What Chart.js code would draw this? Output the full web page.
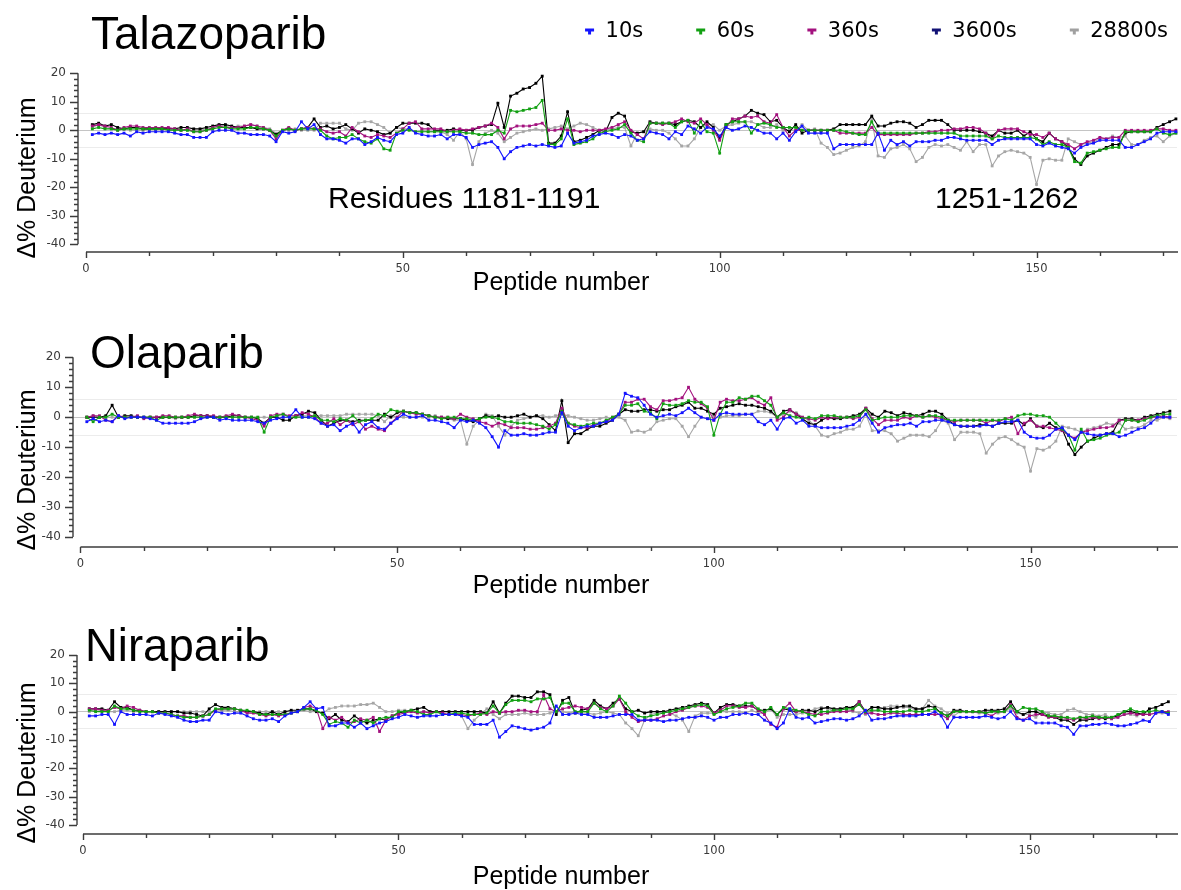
<!DOCTYPE html>
<html>
<head>
<meta charset="utf-8">
<script src="https://cdn.jsdelivr.net/npm/chart.js@4.4.1/dist/chart.umd.min.js"></script>
<style>
  body { margin: 0; background: #fff; }
  #page { position: relative; width: 1181px; height: 890px; overflow: hidden; font-family: 'Liberation Sans', Arial, sans-serif; }
  .panel { position: absolute; left: 0; width: 1181px; }
  .txt { position: absolute; white-space: nowrap; line-height: 1; color: #000; z-index: 2; }
  .ytitle { position: absolute; white-space: nowrap; line-height: 1; font-size: 25px; color: #000;
            transform: translate(-50%, -50%) rotate(-90deg); z-index: 2; }
  .xtitle { position: absolute; white-space: nowrap; line-height: 1; font-size: 25px; color: #000;
            transform: translateX(-50%); z-index: 2; }
</style>
</head>
<body>
<div id="page">
  <div class="panel" style="top:0;height:282px"><canvas id="talaChart"></canvas></div>
  <div class="panel" style="top:300px;height:277px"><canvas id="olaChart"></canvas></div>
  <div class="panel" style="top:600px;height:264px"><canvas id="niraChart"></canvas></div>

  <div class="txt" style="left:91px;top:10px;font-size:46px">Talazoparib</div>
  <div class="txt" style="left:90px;top:329px;font-size:46px">Olaparib</div>
  <div class="txt" style="left:85px;top:623px;font-size:45.5px">Niraparib</div>

  <div class="txt" style="left:328px;top:183px;font-size:30px">Residues 1181-1191</div>
  <div class="txt" style="left:935px;top:183px;font-size:30px">1251-1262</div>

  <div class="ytitle" style="left:26px;top:178px">Δ% Deuterium</div>
  <div class="ytitle" style="left:26px;top:470px">Δ% Deuterium</div>
  <div class="ytitle" style="left:26px;top:763px">Δ% Deuterium</div>

  <div class="xtitle" style="left:561px;top:269px">Peptide number</div>
  <div class="xtitle" style="left:561px;top:572px">Peptide number</div>
  <div class="xtitle" style="left:561px;top:863px">Peptide number</div>
</div>

<script>
// peptide numbers along the x axis
const peptides = Array.from({ length: 172 }, (_, i) => i + 1);

const seriesNames = ['10s', '60s', '360s', '3600s', '28800s'];
const lineColors = ['#1414ff', '#12a012', '#a3117e', '#000000', '#a6a6a6'];
const legendColors = ['#1414ff', '#12a012', '#a3117e', '#121275', '#a0a0a0'];

// tick positions (labels only every 50 on x and every 10 on y)
const xTickValues = [0, 10, 20, 30, 40, 50, 60, 70, 80, 90, 100, 110, 120, 130, 140, 150, 160, 170];
const yTickValues = [-40, -38, -36, -34, -32, -30, -28, -26, -24, -22, -20, -18, -16, -14, -12, -10,
                     -8, -6, -4, -2, 0, 2, 4, 6, 8, 10, 12, 14, 16, 18, 20];

// Talazoparib
const tala10 = [
  -1.5,-1,-1.5,-1,-1.5,-1,-2,-0.5,-1,-0.5,
  -0.5,-0.5,-0.5,-1,-1.5,-1.5,-2.5,-2.5,-2.5,-0.5,
  0,0,0,-1,-1,-1.5,-1.5,-1.5,-2,-4,
  -0.5,-1,-0.5,3,0.5,2,-1.5,-3,-3,-3.5,
  -4.5,-3,-3,-5,-4,-2.5,-3.5,-4,-1.5,-1,
  1,-1,-1.5,-2,-2,-1.5,-3,-1.5,-1.5,-2.5,
  -6,-5,-4.5,-4,-6,-10,-7.5,-6,-5.5,-5,
  -5.5,-5,-5.5,-6,-5.5,-1,-4.5,-4,-3.5,-2,
  -1.5,-1,-1.5,-2.5,-1.5,-2,-3.5,-3,-0.5,-1,
  -1.5,-3,-0.5,-1.5,1.5,0.5,-1,1,0.5,-2,
  1,0,0.5,1.5,1,0,-1,-1,-3,-1,
  -3.5,-0.5,1.5,-1,-1,-1,-1,-6.5,-5,-5,
  -5,-5,-5,-5,-1,-7,-3.5,-5,-4,-5.5,
  -4,-4,-4,-3.5,-3.5,-2.5,-2.5,-3,-3.5,-3.5,
  -3.5,-3.5,-5,-3.5,-3,-3,-3,-3,-3,-5,
  -5.5,-4.5,-5.5,-6,-6.5,-8,-6,-5,-4.5,-3.5,
  -3.5,-3.5,-3.5,-6,-6,-5,-4,-3,-1,-0.5,
  -0.5,-0.5];
const tala60 = [
  0.5,1,0.5,0.5,0,0.5,0.5,0.5,0.5,0.5,
  0.5,0.5,0,0,0,0,-0.5,-0.5,0,0.5,
  1,1,0.5,0.5,0.5,1,1,0.5,0,-2,
  0,0.5,0,0.5,0.5,0.5,0,-2,-3,-2.5,
  -2.5,-1.5,-3,-4,-4.5,-3,-6.5,-7,-1,0,
  0,-0.5,-0.5,-0.5,-0.5,-0.5,-0.5,-0.5,-0.5,-1,
  -1,-1.5,-1.5,-1.5,0,-1,7,6.5,7,7.5,
  8,10.5,-5,-5,-3,4,-5,-4.5,-4,-3,
  -1,-0.5,0,0.5,2,-1,-3.5,-4,2.5,2.5,
  2.5,2.5,1,3,3.5,-1,3,-0.5,-1,-8,
  2,3,3,3,-1,2,2.5,2,1,1,
  1,1,0,0,0,0,0,0,0,-0.5,
  -1,-1.5,-1.5,3,-1,-1,-1,-1,-1,-1,
  -1,-1,-1,-1,-1,-1,-1,-2,-2,-2,
  -2,-2,-3,-2,-2.5,-2.5,-2.5,-2.5,-2.5,-3,
  -5,-4,-5,-5,-6,-11,-11.5,-8,-7.5,-7,
  -6.5,-6,-6,-0.5,-0.5,-0.5,-0.5,-0.5,0.5,-1,
  -1.5,-1];
const tala360 = [
  1.5,2,1.5,1,0,1,1.5,1.5,1,1,
  1,1,1,0.5,0,0.5,-0.5,-0.5,0,1,
  1.5,1,1,1,1.5,2,1.5,1,0,-3,
  0,1,0,0.5,1,0.5,0.5,-0.5,-1,-0.5,
  -2,1,-0.5,-2,-2.5,-1.5,-2,-2.5,-1,0.5,
  2.5,3,0.5,0.5,0.5,0.5,-0.5,0,0.5,0,
  0.5,1,1.5,2.5,1,-3,0.5,1.5,1.5,1.5,
  2,2.5,0,0,0.5,0,0,-0.5,0,0,
  0,0.5,1,2,3,0,-1.5,-3,2.5,2.5,
  2,2.5,3,4,3,2.5,4,2,0,-3.5,
  1,4,4,5,4.5,5,3,2.5,5.5,1,
  -2,0,0,0,0,0,0,0,-1,-1,
  -1,-1,-1,1,-1.5,-1.5,-1.5,-1.5,-1.5,-1.5,
  -1,-1,-0.5,-0.5,0,0,0.5,0.5,1,1,
  0.5,-1,-3,0,0.5,0.5,0.5,-0.5,-1.5,-1.5,
  -2.5,-1,-3,-4,-5,-6.5,-5,-4,-3.5,-2.5,
  -3,-2.5,-2.5,0,0,0,0,0,0.5,0.5,
  0,0];
const tala3600 = [
  2,2.5,1.5,2,1,0.5,1,1,0.5,0.5,
  0.5,0.5,0.5,0.5,1,1,0.5,0.5,1,1.5,
  2,2,1.5,1,1,1,0.5,0.5,0,-1.5,
  0,0.5,0,0.5,1,4,1,1.5,0.5,1,
  2,0.5,-1,0.5,0,-0.5,-1.5,-1,1,2.5,
  2.5,2.5,2.5,2,0,0,0,0.5,0,0,
  0,1,1.5,2,9.5,1,12,13,14.5,15,
  16.5,19,-4.5,-4.5,-2,6.5,-4,-3.5,-2.5,-1.5,
  0,-0.5,4.5,6,5,-0.5,-1,-0.5,3,2.5,
  2.5,2.5,2,3,3.5,3,1,3,1,-3,
  2,3,4,5,7,6,5.5,3,3.5,1,
  -0.5,2,-1,0,0,0,0,0.5,2,2,
  2,2,2,5,1.5,1.5,2.5,3,3,2.5,
  1,2,3.5,3.5,3.5,2,0,0,0,0,
  -0.5,-1,-2,0,-1,-1,0,-2,-0.5,-3,
  -4,-1,-3,-4,-6,-10,-12,-9,-8,-7,
  -6,-5,-5,-1,-0.5,-0.5,-0.5,-0.5,1,2,
  3,4];
const tala28800 = [
  1,2,1,0.5,0.5,0.5,0,0,0,0.5,
  0.5,0.5,0,0,0,0,0,0,0.5,1,
  1.5,1.5,1,1.5,1.5,2,1.5,1,0.5,-1,
  0,0,0.5,0,0,0,2.5,2.5,2.5,2.5,
  0.5,0,2.5,3,3,2,1,-1,1,0.5,
  0.5,-0.5,0,-0.5,-0.5,-0.5,-1.5,-3.5,-0.5,-3,
  -12,-4,-1,0,-1,-4,-2.5,-1,-0.5,0,
  0.5,0,0.5,1,1.5,0.5,1.5,2.5,2,1,
  0,0,0.5,1,1,-5.5,-1,-0.5,0.5,0,
  0,-1,-3,-5.5,-5.5,-3,1,2,2,0,
  1.5,2,2.5,3,3,2,1,1,2,0,
  0,0,2,0,0.5,-4.5,-6,-8.5,-8,-7,
  -6,-5.5,-4,4,-9,-9.5,-6.5,-6,-5,-6.5,
  -11,-9.5,-6,-5,-5.5,-5,-6,-7,-4,-7.5,
  -5,-5,-12.5,-9,-7.5,-7,-7.5,-8,-9.5,-19,
  -10.5,-10,-10.5,-10.5,-3,-4,-5,-4.5,-4,-3,
  -3,-2,-2.5,-2,-5,-5,-3.5,-2.5,-2,-4,
  -2,-1];

// Olaparib
const ola10 = [
  -1.5,-0.5,-1.5,-1,-1.5,0.5,-0.5,0,0,0,
  -0.5,-1,-2,-2,-2,-2,-2,-1.5,-0.5,0,
  0,-1,-0.5,-1,-1,-1,-1,-1.5,-2,-1,
  -0.5,0,0,2.5,0,0,-0.5,-2,-3,-2.5,
  -4.5,-3,-2,-5,-2.5,-1.5,-3.5,-4,-2,-0.5,
  1,0,0,0.5,-1,-1,-1.5,-2,-3.5,-1,
  -1.5,-1,-2,-3.5,-6.5,-10,-4.5,-6,-6,-5.5,
  -6,-6,-5.5,-5,-5,1.5,-3,-4.5,-3.5,-3,
  -3,-2,-1.5,-1,1,8,7,6.5,4,1,
  0,0.5,1,0.5,1.5,3,1.5,0,-0.5,-1,
  1,1.5,1,1,1,1,-1.5,-2.5,-1,-4,
  -0.5,0,-2,-1,-3,-3,-3.5,-3.5,-3.5,-3.5,
  -3,-2.5,-1,1,-2,-5,-3.5,-3,-2.5,-2.5,
  -2,-3,-1.5,-1.5,-1,-1,-1.5,-2.5,-3,-3,
  -3,-3,-2.5,-3,-2,-1.5,-1.5,-1,-5,-6.5,
  -7,-7,-6,-4,-3.5,-6,-7.5,-5,-5.5,-6,
  -6,-5.5,-5.5,-6.5,-6,-5,-4,-3.5,-2,0,
  0,0];
const ola60 = [
  0,-1.5,0,0,1,0,0,0,0,0,
  0,-1,0,0,0,0,0,0,0,0,
  0,0,0,0,0,0,0,0,-5,0,
  0.5,1,0,0,0,0,0.5,-1,-1,-1.5,
  -0.5,-1,0.5,-1.5,-1,-0.5,1,0.5,2.5,2,
  2,1.5,1.5,1,0.5,0,-0.5,0,0,-0.5,
  -0.5,-1,-0.5,0,0,-0.5,-1.5,-1.5,-2,-2,
  -2,-2.5,-3,-4,-2.5,2,-2,-2.5,-3,-2.5,
  -2,-2,-1,0,1,4,4,4.5,2,1.5,
  -0.5,4.5,4,4,4.5,5.5,5,5,3.5,-6,
  1,5,5,6.5,6,7,7,5.5,4,0,
  1.5,0.5,0,-0.5,0,-0.5,0.5,0.5,0.5,0,
  0,0,0.5,2.5,-1,-0.5,0,0,0,0.5,
  0.5,0.5,0,0.5,0.5,0,-1,-1,-1,-1,
  -1,-1,-1,-1,-1,-0.5,-1,0.5,1,1,
  0.5,0.5,0,-2,-4,-6,-11,-4,-8,-7.5,
  -7,-6,-5.5,-5,-1,-1,-1.5,-1,0,0.5,
  1,1];
const ola360 = [
  0,0.5,0.5,-1,-1.5,0.5,0,0,0.5,-0.5,
  0,0,0.5,0.5,0,0,0.5,1,0.5,0.5,
  0.5,0,0.5,1,0.5,0,-0.5,-1,-3,0.5,
  1,1,0.5,0.5,1.5,1,0,-2,-2,-0.5,
  -2.5,-1,-2.5,-1.5,-4,-3,-4,-4.5,-2,0,
  2,1.5,1,1,0.5,0,0,0,-0.5,1,
  0,-0.5,-1.5,-2,-3,-2,-2.5,-3.5,-3.5,-3.5,
  -4,-4,-3.5,-3,-2,3,-2,-3,-3.5,-3.5,
  -2.5,-2,-1.5,0,1,5,5,6,6,3.5,
  2.5,5.5,5.5,6,6.5,10,6,4.5,3,-1,
  5,6,5.5,5.5,6,6.5,5,4,6.5,-1,
  0,2.5,1,0,-0.5,-1,0,-0.5,0,0,
  0,-0.5,0,3,-0.5,-2.5,-1,-1,-1,0,
  -0.5,0.5,0,0.5,0,-0.5,-1,-1.5,-1,-1,
  -1,-1,-2,-1,-1.5,-0.5,0,-5.5,-2,-1,
  -3,-3,-3.5,-4,-4.5,-6,-7,-5,-4.5,-4,
  -3.5,-3.5,-3,-1,-1,-1,-1,-0.5,0,0,
  0.5,0];
const ola3600 = [
  0,0,0,0.5,4,0,0.5,0.5,0,0,
  0,0,0,0,0,0,0,0.5,0.5,0.5,
  0,0,0,0.5,0.5,0,0,-0.5,-2,0,
  0,-1,-1,0.5,1,2,1.5,-1,-3,-2,
  -1,-1,-1.5,-1,-1,-1,-1,1,0,1.5,
  2,1.5,1.5,1,0.5,0,0,-0.5,-0.5,-0.5,
  -1,-1.5,-0.5,0.5,0,0.5,0,0,0.5,1,
  0,0.5,-0.5,-2.5,-4.5,5.5,-8.5,-5.5,-5.5,-4,
  -3,-3,-2,-1,1,2.5,2,2,2.5,2.5,
  2,2.5,2.5,3.5,4,5,3,3,2,1,
  3,3.5,4,4.5,4,4,3.5,3,2,0,
  2,2.5,1,-0.5,-2,-2.5,-1,0,-0.5,-0.5,
  0,0.5,1,3,1,0,2,1.5,0.5,1.5,
  1,0.5,1,2,2,1,-1,-2.5,-3,-3,
  -3,-2.5,-2.5,-3,-2,-2,-2,-1,-2.5,-0.5,
  -3,-3.5,-2,-3.5,-4,-9,-12.5,-10,-8,-7,
  -6,-5.5,-5,-1,-0.5,-0.5,-1,0,0.5,1,
  1.5,2];
const ola28800 = [
  0,0.5,0,0,0,0,0,0,0,0,
  0,0,0,0,-0.5,0,0,0,0,0,
  0,0,0,0,0,0,0,0,0,0,
  0,0,0,0,0.5,0.5,0.5,0.5,0.5,0.5,
  0.5,1,1,1,1,1,0.5,-1.5,0.5,0,
  0,0,0,0,0,0.5,-0.5,-0.5,-1,-1,
  -9,-3,-1,1,0.5,-3,-6,-3,-1,-0.5,
  0,0.5,0.5,0,0.5,1,0.5,0,-0.5,-1,
  -1,-0.5,0,-0.5,0,-1,-5,-4.5,-5,-4,
  -1.5,-1,-0.5,-0.5,-3,-6.5,-3,0,-0.5,0,
  0,0.5,0.5,0.5,1,1,2,2,1.5,0,
  1,2,1.5,0,-1,-3,-6,-6.5,-5.5,-5,
  -4,-4,-3,1,-4.5,-4.5,-4.5,-5.5,-8,-7,
  -6,-6,-6,-6.5,-4.5,-1,-2,-7.5,-5,-5,
  -5,-5.5,-12,-9,-7,-6.5,-7.5,-9,-10,-18,
  -10.5,-11,-10,-8,-3,-3.5,-4,-5,-4,-3.5,
  -3,-2,-2.5,-2,-4,-3.5,-3.5,-2.5,-1,-1,
  0,-0.5];

// Niraparib
const nira10 = [
  -1.5,-1.5,-1,-1,-4.5,0,-1,-1,-1,-1,
  -1.5,-0.5,-1,-1.5,-2,-3,-3.5,-3.5,-3,-3,
  0,-0.5,-1,-0.5,-0.5,-1.5,-2.5,-3,-3,-2.5,
  -3.5,-1.5,-0.5,0,1.5,3.5,1,1.5,-5,-5,
  -4,-4,-5.5,-4,-6,-5,-4,-3.5,-2.5,-2,
  -1,-1.5,-2,-1.5,-1.5,-1.5,-1,-1,-1,-1.5,
  -2,-4.5,-4.5,-4.5,-3,-9,-7,-5,-5.5,-6,
  -6.5,-6,-5.5,-4,2,-1,-1,-0.5,-1,-1,
  -2,-2,-2,-1.5,-1,-1,-1,-3,-3,-3,
  -3,-3.5,-3,-3,-2.5,-2,-2,-1.5,-2,-3,
  -2,-2,-1,-1,-0.5,-1,-1,-3,-4,-6,
  -4,1,-2,-2.5,-2,-4,-3.5,-3,-2.5,-2.5,
  -3,-2.5,-1.5,0.5,-3,-2.5,-2.5,-2,-1.5,-1.5,
  -1.5,-1.5,-1,-1,0,-1.5,-5.5,-2,-2,-2,
  -2,-2,-1.5,-2,-2.5,-2,0,-2.5,-3,-2.5,
  -4,-4,-4,-4,-5,-5.5,-8,-5,-5,-4.5,
  -4.5,-4,-4.5,-5,-5,-4.5,-4,-3,-3.5,-0.5,
  0,-1];
const nira60 = [
  0.5,0,0,0,2,1,1,0.5,0,0,
  0,-0.5,-0.5,-1,-1.5,-2,-2,-2,-1.5,-1,
  1,1,1,1,0.5,0.5,0,-1,-1,-1,
  -1,-1,-0.5,0,1,1,0.5,-1,-4.5,-3.5,
  -4,-5.5,-3,-4,-3,-4,-2.5,-2,-2,0,
  0,0.5,0,-1,-1,0,-1,-1,-0.5,-0.5,
  -1,-1,-1,-0.5,2,-0.5,2.5,4,4,4,
  3.5,4.5,4.5,5,0,3,3,0,0,0,
  3,1,0,2,5.5,3,0,-1.5,-2,-1.5,
  -1,-0.5,0,0.5,1,1.5,2,2.5,2,-1,
  0,1,1.5,2,3,3,1,0,1.5,-1,
  1.5,1,0.5,0,-1,-1.5,0,0,0.5,0.5,
  1,1,2.5,0,0.5,0.5,0,0,0,0,
  0.5,0,0,0.5,1,-0.5,-1.5,0,0,0,
  0,0,-0.5,0,0,0,2,0,1.5,1,
  1,0,-1.5,-1.5,-2,-2,-2.5,-2,-2,-1.5,
  -2,-2,-2,-1,0,1,0,0,0,0.5,
  0,-0.5];
const nira360 = [
  1,1,0.5,0.5,1.5,1,2,1.5,0.5,0,
  0,-0.5,-0.5,-1,-1.5,-1.5,-2,-2,-1.5,-1,
  0.5,1,1,1,0.5,-0.5,-0.5,-1,-1.5,-1,
  -1.5,-1,-0.5,0,1.5,2,1,-6,-2,-3,
  -2,-4,-3.5,-2.5,-3,-2,-7,-3,-1.5,-1,
  -0.5,0,-0.5,0,-0.5,0,-0.5,-1,-1,-1,
  -1.5,-1,-0.5,-1,0,-0.5,0,0,0.5,0.5,
  0,0,6,1,0,1,1.5,2,1.5,1,
  3,1.5,1,2,4.5,0,-2,-3.5,-3,-3,
  -2.5,-1.5,-1,0,0.5,1.5,2,2,1.5,-0.5,
  0.5,2,2,1.5,1.5,2,0.5,-1,-4.5,-5.5,
  1,3,0,0,-0.5,-1,-1,-0.5,0,0,
  0,0.5,3.5,-0.5,-0.5,-1,-1,-0.5,-0.5,-1,
  -1,-1,-1,-1,-1,-1,-2.5,0,0,0,
  0,0,-0.5,-1.5,0,0,2.5,-2,-3,-1.5,
  -1,-1,-2,-2,-2,-2.5,-3,-2,-2.5,-2,
  -2.5,-2,-2.5,-2,-1,-0.5,-1,-1,-1,-0.5,
  0,0];
const nira3600 = [
  1,1,1,0.5,3.5,1.5,1.5,0.5,0.5,0,
  0,0,0,0,0,-0.5,-0.5,-1,-1.5,1,
  2.5,1.5,1.5,1,0.5,0,0,-0.5,-1,0,
  -1,0,0.5,0.5,1,1,0,-0.5,-2.5,-1,
  -3,-3.5,-1.5,-3,-4,-3,-2.5,-3,-1.5,-0.5,
  0,0.5,1,1.5,0,0,0,0,0,0,
  0,0,0,-0.5,3.5,-0.5,3,5.5,5.5,5,
  5,7,7,6,-1,4,5,-0.5,0.5,1,
  4,2,1,3,4.5,1,0,0.5,-0.5,0,
  0,0,0.5,1,1.5,2,2.5,3,2.5,-0.5,
  1.5,2.5,2.5,2,2,2,0.5,0.5,1,-1,
  1,0.5,0,0.5,0.5,0,1,1.5,1,1,
  1.5,1.5,3.5,0,1.5,1.5,1,1,1.5,2,
  2,1,1,2,1.5,-0.5,-1.5,0.5,0.5,0,
  0,0,0.5,0.5,0.5,1,3.5,0,-1,0,
  0,-1,-1.5,-2,-3,-3,-4.5,-3,-3,-2.5,
  -2,-2.5,-2,-1.5,0,0,-0.5,-1,1,1.5,
  2.5,3.5];
const nira28800 = [
  0,0.5,0.5,0,0,0.5,0.5,0,0,0,
  0,0,0,0,0,0,0,0,0,0,
  0,0.5,0.5,0,0,0,0,0,0,0,
  0,0,0,0,0.5,0,0,-0.5,1,1.5,
  2,2,2,2.5,2.5,3,1.5,0,0,0.5,
  0.5,0,0,0,0,0,-1,-1,-0.5,-1.5,
  -6,-3,-1,1,-1,-2.5,-1,-1,-1,-0.5,
  -1,-1,-1,-0.5,0,0,-0.5,0,-0.5,-0.5,
  -1,-0.5,0,-0.5,-1,-4,-6,-8.5,-3,-1,
  -0.5,0,-0.5,-1.5,-3,-7,-1.5,-0.5,-0.5,-0.5,
  0,0,0,0,-0.5,0.5,-0.5,-0.5,1,-2,
  -1,-1,-1,-0.5,0,1,1.5,1,0.5,1,
  0.5,0,-0.5,-1,0,0.5,1.5,2,2,1.5,
  1.5,0.5,1,4,2,1,-0.5,-1.5,0,0,
  0,-0.5,-0.5,0,-0.5,0,1,-0.5,-1,-1,
  -2,0,-0.5,-1,-1,0.5,1,0,-1,-1,
  -1.5,-1,-2.5,-2,-1,-1,-1.5,-0.5,-1,-0.5,
  -0.5,-0.5];

const tickFont = { family: "'DejaVu Sans', sans-serif", size: 11.5 };

// small "T" shaped legend marks, drawn at the right end of a 50px box
function makeMark(color) {
  const c = document.createElement('canvas');
  c.width = 50; c.height = 12;
  const g = c.getContext('2d');
  g.fillStyle = color;
  g.fillRect(40, 3, 9, 3);
  g.fillRect(43, 6, 3, 3);
  return c;
}
const legendMarks = legendColors.map(makeMark);

// axis lines + tick marks (the reference has a detached x axis)
const axesPlugin = {
  id: 'axesPlugin',
  beforeDatasetsDraw(chart) {
    const { ctx, chartArea, scales: { x, y } } = chart;
    ctx.save();
    ctx.strokeStyle = '#3c3c3c';
    ctx.lineWidth = 1.4;
    const left = chartArea.left;
    ctx.beginPath();
    ctx.moveTo(left, y.getPixelForValue(20));
    ctx.lineTo(left, y.getPixelForValue(-40));
    y.ticks.forEach(t => {
      const py = Math.round(y.getPixelForValue(t.value)) + 0.5;
      const len = t.value % 10 === 0 ? 8 : 4;
      ctx.moveTo(left - len, py);
      ctx.lineTo(left, py);
    });
    const bottom = chartArea.bottom;
    ctx.moveTo(x.getPixelForValue(0), bottom);
    ctx.lineTo(chart.width - 3, bottom);
    x.ticks.forEach(t => {
      const px = Math.round(x.getPixelForValue(t.value)) + 0.5;
      ctx.moveTo(px, bottom);
      ctx.lineTo(px, bottom + (t.value % 50 === 0 ? 6 : 4));
    });
    ctx.stroke();
    ctx.restore();
  }
};

function makeDataset(i, values) {
  return {
    label: seriesNames[i],
    data: peptides.map((p, k) => ({ x: p, y: values[k] })),
    borderColor: lineColors[i],
    backgroundColor: lineColors[i],
    pointBackgroundColor: lineColors[i],
    pointBorderWidth: 0,
    pointStyle: 'rect',
    pointRadius: 2,
    borderWidth: 1.1,
    tension: 0,
    clip: false
  };
}

function makePanel(id, series, g) {
  // g: pixel geometry of the panel, in canvas coordinates
  const ppu = (g.yM40 - g.y20) / 60;
  const yMax = 20 + (g.y20 - g.areaTop) / ppu;
  const yMin = -40 - (g.axisY - g.yM40) / ppu;
  const ppx = (g.x150 - g.x0) / 150;
  const xMin = -(g.x0 - g.yAxisX) / ppx;
  const xMax = (1181 - g.x0) / ppx;

  return new Chart(document.getElementById(id), {
    type: 'line',
    data: { datasets: series.map((v, i) => makeDataset(i, v)) },
    plugins: [axesPlugin],
    options: {
      responsive: true,
      maintainAspectRatio: false,
      animation: false,
      events: [],
      layout: { padding: { top: g.padTop, left: 0, right: 0, bottom: 0 } },
      scales: {
        x: {
          type: 'linear',
          min: xMin,
          max: xMax,
          border: { display: false },
          grid: { display: false, drawTicks: true, tickLength: 10 },
          afterFit: s => { s.height = 30; },
          afterBuildTicks: s => { s.ticks = xTickValues.map(v => ({ value: v })); },
          ticks: {
            autoSkip: false,
            maxRotation: 0,
            padding: 0,
            color: '#3a3a3a',
            font: tickFont,
            callback: v => (v % 50 === 0) ? String(v) : ''
          }
        },
        y: {
          min: yMin,
          max: yMax,
          border: { display: false },
          afterFit: s => { s.width = g.yAxisX; },
          afterBuildTicks: s => { s.ticks = yTickValues.map(v => ({ value: v })); },
          grid: {
            drawTicks: true,
            tickLength: 12,
            tickColor: 'rgba(0,0,0,0)',
            lineWidth: 1,
            color: c => {
              const v = c.tick ? c.tick.value : null;
              if (v === 0) return '#c4c4c4';
              if (v === 6 || v === -6) return '#ececec';
              return 'rgba(0,0,0,0)';
            }
          },
          ticks: {
            autoSkip: false,
            padding: 0,
            color: '#3a3a3a',
            font: { family: "'DejaVu Sans', sans-serif", size: 12 },
            callback: v => (v % 10 === 0) ? String(v) : ''
          }
        }
      },
      plugins: {
        tooltip: { enabled: false },
        legend: g.legend ? {
          display: true,
          position: 'top',
          align: 'end',
          labels: {
            usePointStyle: true,
            pointStyleWidth: 50,
            padding: 13,
            color: '#000',
            font: { family: "'DejaVu Sans', sans-serif", size: 21 },
            generateLabels: chart => {
              const items = Chart.defaults.plugins.legend.labels.generateLabels(chart);
              items.forEach((it, i) => { it.pointStyle = legendMarks[i]; });
              return items;
            }
          }
        } : { display: false }
      }
    }
  });
}

// legend height = font 21 + padding 13 + 10 = 44, so the plot area starts at 8 + 44
makePanel('talaChart', [tala10, tala60, tala360, tala3600, tala28800], {
  legend: true, padTop: 8, areaTop: 52, y20: 73.3, yM40: 244.3, axisY: 252,
  yAxisX: 78, x0: 86, x150: 1040
});
makePanel('olaChart', [ola10, ola60, ola360, ola3600, ola28800], {
  legend: false, padTop: 20, areaTop: 20, y20: 57.3, yM40: 237, axisY: 247,
  yAxisX: 73, x0: 80.5, x150: 1034
});
makePanel('niraChart', [nira10, nira60, nira360, nira3600, nira28800], {
  legend: false, padTop: 20, areaTop: 20, y20: 55, yM40: 225, axisY: 234,
  yAxisX: 77, x0: 83, x150: 1033
});
</script>
</body>
</html>
